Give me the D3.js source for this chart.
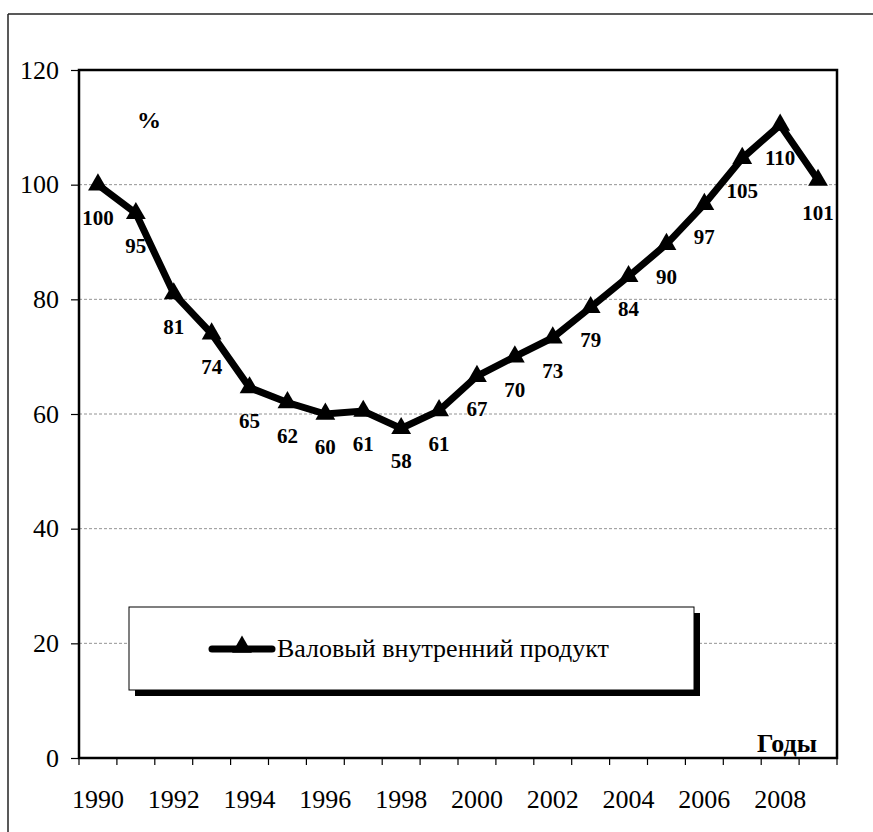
<!DOCTYPE html>
<html>
<head>
<meta charset="utf-8">
<script src="https://cdn.jsdelivr.net/npm/d3@7"></script>
<style>
  html, body { margin: 0; padding: 0; background: #fff; }
  svg { display: block; }
</style>
</head>
<body>
<svg id="chart" width="873" height="832"></svg>
<script>
// ---- data ----
const years = [1990,1991,1992,1993,1994,1995,1996,1997,1998,1999,2000,2001,2002,2003,2004,2005,2006,2007,2008,2009];
const gdp = [100,95,81,74,64.6,62,60,60.5,57.5,60.6,66.6,70,73.3,78.6,84,89.6,96.6,104.6,110.4,100.8];
const gdpLabels = ["100","95","81","74","65","62","60","61","58","61","67","70","73","79","84","90","97","105","110","101"];
const yTicks = [0,20,40,60,80,100,120];
const xTickLabels = [1990,1992,1994,1996,1998,2000,2002,2004,2006,2008];
const seriesName = "Валовый внутренний продукт";
const yUnit = "%";
const xTitle = "Годы";

// ---- layout ----
const svg = d3.select("#chart");
const serif = "Liberation Serif, Times New Roman, serif";
const L = 79, R = 837, T = 70, B = 758;

const x = d3.scaleBand().domain(years).range([L, R]).padding(0);
const y = d3.scaleLinear().domain([0, 120]).range([B, T]);
const cx = d => x(d) + x.bandwidth() / 2;

// outer frame (top and left visible)
svg.append("line").attr("x1", 8).attr("x2", 873).attr("y1", 14).attr("y2", 14)
  .attr("stroke", "#222").attr("stroke-width", 1.5);
svg.append("line").attr("x1", 8).attr("x2", 8).attr("y1", 14).attr("y2", 832)
  .attr("stroke", "#222").attr("stroke-width", 1.5);

// gridlines
svg.append("g").selectAll("line")
  .data(yTicks.filter(v => v > 0 && v < 120))
  .join("line")
  .attr("x1", L).attr("x2", R)
  .attr("y1", d => y(d)).attr("y2", d => y(d))
  .attr("stroke", "#777").attr("stroke-width", 0.8)
  .attr("stroke-dasharray", "3,2");

// y axis
const yAxis = svg.append("g")
  .attr("transform", `translate(${L},0)`)
  .call(d3.axisLeft(y).tickValues(yTicks).tickSize(8).tickPadding(12).tickFormat(d3.format("d")));
yAxis.select(".domain").remove();
yAxis.selectAll(".tick line").attr("stroke", "#000").attr("stroke-width", 1.2);
yAxis.selectAll(".tick text").attr("font-family", serif).attr("font-size", 26).attr("fill", "#000");

// x axis ticks at category boundaries
const bounds = years.map(d => x(d)).concat([R]);
svg.append("g").selectAll("line")
  .data(bounds)
  .join("line")
  .attr("x1", d => d).attr("x2", d => d)
  .attr("y1", B).attr("y2", B + 7)
  .attr("stroke", "#000").attr("stroke-width", 1.2);
svg.append("g").selectAll("text")
  .data(xTickLabels)
  .join("text")
  .attr("x", d => cx(d))
  .attr("y", 808)
  .attr("text-anchor", "middle")
  .attr("font-family", serif).attr("font-size", 26).attr("fill", "#000")
  .text(d => d);

// plot border
svg.append("rect")
  .attr("x", L).attr("y", T).attr("width", R - L).attr("height", B - T)
  .attr("fill", "none").attr("stroke", "#000").attr("stroke-width", 2.5);

// unit and axis title
svg.append("text").attr("x", 149).attr("y", 128).attr("text-anchor", "middle")
  .attr("font-family", serif).attr("font-weight", "bold").attr("font-size", 24)
  .text(yUnit);
svg.append("text").attr("x", 817).attr("y", 752).attr("text-anchor", "end")
  .attr("font-family", serif).attr("font-weight", "bold").attr("font-size", 26)
  .text(xTitle);

// line
const line = d3.line().x((d, i) => cx(years[i])).y(d => y(d));
svg.append("path")
  .datum(gdp)
  .attr("d", line)
  .attr("fill", "none").attr("stroke", "#000").attr("stroke-width", 7)
  .attr("stroke-linejoin", "miter");

// markers
const tri = d3.symbol().type(d3.symbolTriangle).size(170);
svg.append("g").selectAll("path")
  .data(gdp)
  .join("path")
  .attr("d", tri)
  .attr("transform", (d, i) => `translate(${cx(years[i])},${y(d)})`)
  .attr("fill", "#000");

// data labels
svg.append("g").selectAll("text")
  .data(gdp)
  .join("text")
  .attr("x", (d, i) => cx(years[i]))
  .attr("y", d => y(d) + 40)
  .attr("text-anchor", "middle")
  .attr("font-family", serif).attr("font-weight", "bold").attr("font-size", 21)
  .attr("fill", "#000")
  .text((d, i) => gdpLabels[i]);

// legend
const lg = svg.append("g");
lg.append("rect").attr("x", 135).attr("y", 613).attr("width", 565).attr("height", 83).attr("fill", "#000");
lg.append("rect").attr("x", 129).attr("y", 607).attr("width", 565).attr("height", 83)
  .attr("fill", "#fff").attr("stroke", "#000").attr("stroke-width", 1);
lg.append("line").attr("x1", 212).attr("x2", 272).attr("y1", 649).attr("y2", 649)
  .attr("stroke", "#000").attr("stroke-width", 7).attr("stroke-linecap", "round");
lg.append("path").attr("d", tri).attr("transform", "translate(242,647)").attr("fill", "#000");
lg.append("text").attr("x", 277).attr("y", 657)
  .attr("font-family", serif).attr("font-size", 26).attr("fill", "#000")
  .text(seriesName);
</script>
</body>
</html>
